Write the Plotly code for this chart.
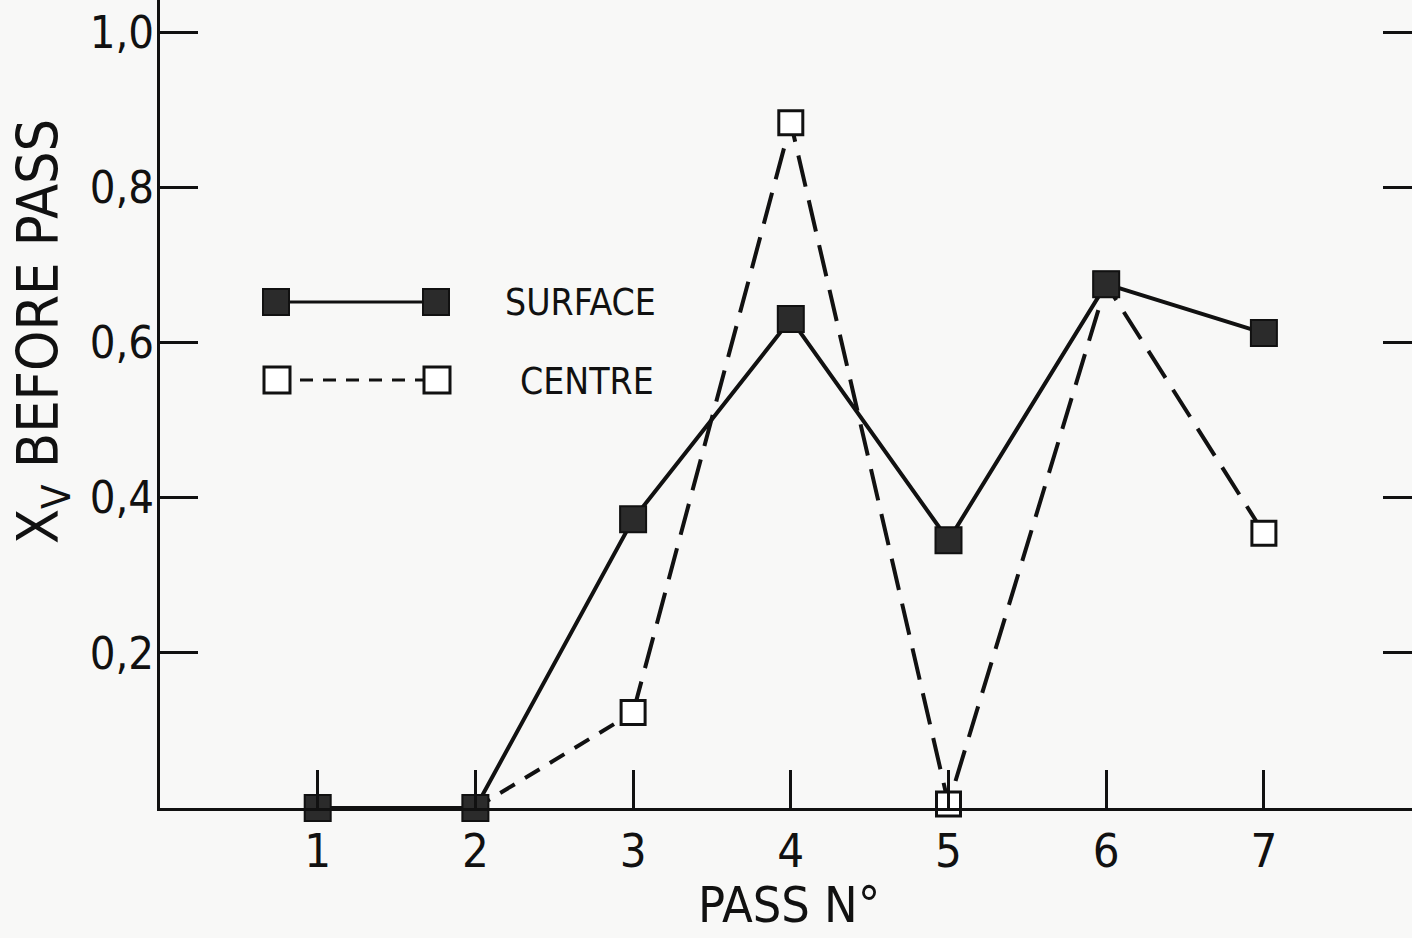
import plotly.graph_objects as go

# Pass numbers and void fraction X_v measured before each pass
passes = [1, 2, 3, 4, 5, 6, 7]
surface = [0.0, 0.0, 0.372, 0.630, 0.345, 0.675, 0.612]

centre_passes = [2, 3, 4, 5, 6, 7]
centre = [0.0, 0.123, 0.883, 0.005, 0.675, 0.354]

y_ticks = [0.2, 0.4, 0.6, 0.8, 1.0]
y_tick_text = ["0,2", "0,4", "0,6", "0,8", "1,0"]
x_ticks = [1, 2, 3, 4, 5, 6, 7]
x_tick_text = ["1", "2", "3", "4", "5", "6", "7"]

FONT = "DejaVu Sans Condensed, DejaVu Sans, sans-serif"
INK = "#111111"
BG = "#f8f8f7"
FILL = "#2b2b2b"

W, H = 1412, 938
ML, MB = 160, 130
plot_w, plot_h = W - ML, H - MB


def px(x):
    return (x - ML) / plot_w


def py(y):
    return (H - MB - y) / plot_h


fig = go.Figure()

# Centre: first segment uses short dashes, the rest long dashes
fig.add_trace(go.Scatter(
    x=centre_passes[:2], y=centre[:2], mode="lines",
    line=dict(color=INK, width=4, dash="17px,12px"),
    cliponaxis=False, showlegend=False, hoverinfo="skip"))
fig.add_trace(go.Scatter(
    x=centre_passes[1:], y=centre[1:], mode="lines",
    line=dict(color=INK, width=4, dash="32px,14px"),
    cliponaxis=False, showlegend=False, hoverinfo="skip"))

# Surface: solid line
fig.add_trace(go.Scatter(
    x=passes, y=surface, mode="lines",
    line=dict(color=INK, width=4),
    cliponaxis=False, showlegend=False, hoverinfo="skip"))

# Centre markers (open squares)
fig.add_trace(go.Scatter(
    x=centre_passes, y=centre, mode="markers",
    marker=dict(symbol="square", size=24, color="white",
                line=dict(color=INK, width=3)),
    cliponaxis=False, showlegend=False))

# Surface markers (filled squares)
fig.add_trace(go.Scatter(
    x=passes, y=surface, mode="markers",
    marker=dict(symbol="square", size=26, color=FILL,
                line=dict(color=INK, width=2)),
    cliponaxis=False, showlegend=False))

# Empty trace that carries the right-hand tick axis
fig.add_trace(go.Scatter(x=[None], y=[None], yaxis="y2",
                         showlegend=False, hoverinfo="skip"))

shapes = []
# Legend keys
for (xa, xb, yc, dash, fill) in [
    (276, 436, 302, None, FILL),
    (277, 437, 380, "13px,10px", "white"),
]:
    shapes.append(dict(type="line", xref="paper", yref="paper",
                       x0=px(xa), x1=px(xb), y0=py(yc), y1=py(yc),
                       line=dict(color=INK, width=3, dash=dash or "solid")))
    for xc in (xa, xb):
        shapes.append(dict(type="rect", xref="paper", yref="paper",
                           xsizemode="pixel", ysizemode="pixel",
                           xanchor=px(xc), yanchor=py(yc),
                           x0=-13, x1=13, y0=-13, y1=13,
                           fillcolor=fill,
                           line=dict(color=INK, width=2 if fill == FILL else 3)))

annotations = [
    dict(text="SURFACE", xref="paper", yref="paper", x=px(503), y=py(302),
         xanchor="left", yanchor="middle", showarrow=False,
         font=dict(family=FONT, size=37, color=INK)),
    dict(text="CENTRE", xref="paper", yref="paper", x=px(518), y=py(381),
         xanchor="left", yanchor="middle", showarrow=False,
         font=dict(family=FONT, size=37, color=INK)),
    dict(text="PASS N°", xref="paper", yref="paper", x=px(789), y=py(936),
         xanchor="center", yanchor="bottom", showarrow=False,
         font=dict(family=FONT, size=50, color=INK)),
    dict(text="X<sub>V</sub> BEFORE PASS", xref="paper", yref="paper",
         x=px(42), y=py(332), textangle=-90,
         xanchor="center", yanchor="middle", showarrow=False,
         font=dict(family=FONT, size=57, color=INK)),
]

fig.update_layout(
    width=W, height=H,
    margin=dict(l=ML, r=0, t=0, b=MB, pad=0),
    paper_bgcolor=BG, plot_bgcolor=BG,
    showlegend=False,
    shapes=shapes,
    annotations=annotations,
    xaxis=dict(range=[0, plot_w / 157.7], tickvals=x_ticks, ticktext=x_tick_text,
               ticks="inside", ticklen=38, tickwidth=3, tickcolor=INK,
               showline=True, linewidth=3, linecolor=INK,
               showgrid=False, zeroline=False,
               tickfont=dict(family=FONT, size=47, color=INK)),
    yaxis=dict(range=[0, plot_h / 776.0], tickvals=y_ticks, ticktext=y_tick_text,
               ticks="inside", ticklen=38, tickwidth=3, tickcolor=INK,
               showline=True, linewidth=3, linecolor=INK,
               showgrid=False, zeroline=False, ticklabelstandoff=-6,
               tickfont=dict(family=FONT, size=45, color=INK)),
    yaxis2=dict(range=[0, plot_h / 776.0], overlaying="y", side="right",
                tickvals=y_ticks, ticks="inside", ticklen=29, tickwidth=3,
                tickcolor=INK, showticklabels=False, showline=False,
                showgrid=False, zeroline=False),
)

fig.write_html("out.html")
